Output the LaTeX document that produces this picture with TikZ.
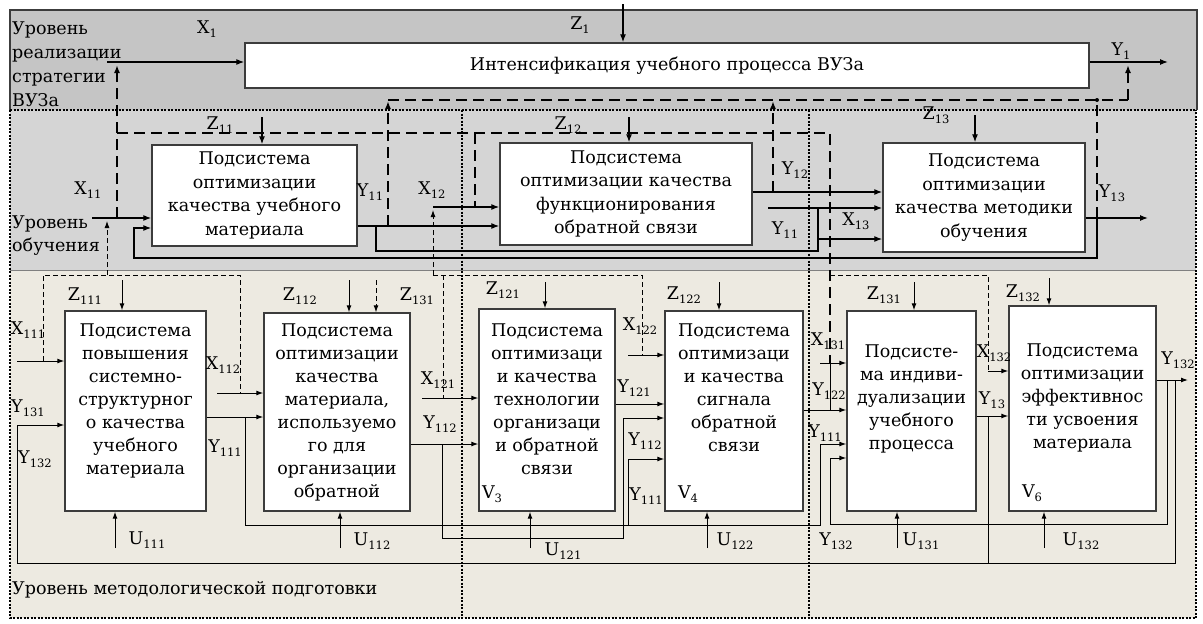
\documentclass[tikz,border=0pt]{standalone}
\usepackage{fontspec}
\setmainfont{DejaVu Serif}
\usetikzlibrary{arrows.meta}
\newcommand{\lb}[2]{#1\raisebox{-0.4ex}{\fontsize{11.5}{12}\selectfont #2}}
\definecolor{bandA}{RGB}{197,197,197}
\definecolor{bandB}{RGB}{213,213,213}
\definecolor{bandC}{RGB}{237,234,225}
\definecolor{edge}{RGB}{60,60,60}
\begin{document}
\begin{tikzpicture}[x=1pt,y=-1pt,
  font=\fontsize{17.5}{23}\selectfont,
  box/.style={draw=edge,line width=1.4pt,fill=white,inner sep=0pt},
  txt/.style={inner sep=0pt,align=center,anchor=north},
  lab/.style={inner sep=0pt},
  arr/.style={line width=1.2pt,-{Latex[length=8pt,width=6pt]}},
  wire/.style={line width=1.2pt},
  arrt/.style={line width=1pt,-{Latex[length=7pt,width=5pt]}},
  wiret/.style={line width=1pt},
  fb/.style={line width=1.6pt,dash pattern=on 11pt off 6pt},
  fbarr/.style={fb,-{Latex[length=8pt,width=6pt]}},
  fbt/.style={line width=0.9pt,dash pattern=on 5pt off 3pt},
  fbtarr/.style={fbt,-{Latex[length=7pt,width=5pt]}},
  dots/.style={line width=2pt,dash pattern=on 2pt off 1.5pt},
]
\useasboundingbox (0,0) rectangle (1203,624);
\fill[white] (0,0) rectangle (1203,624);
% bands
\fill[bandC] (10,270) rectangle (1196,618);
\fill[bandB] (10,110) rectangle (1196,270);
\fill[bandA] (10,10) rectangle (1197,110);
\draw[edge,line width=1.2pt] (10,110) -- (10,10) -- (1197,10) -- (1197,110);
\draw[gray,line width=0.8pt] (10,270) -- (1196,270);

% ---------------- level 1 ----------------
\node[box,minimum width=844pt,minimum height=45pt] (top) at (667,65.5) {Интенсификация учебного процесса ВУЗа};
\node[lab,anchor=north west,align=left,font=\fontsize{17.5}{24}\selectfont] (lev1) at (12,21.5) {Уровень\\реализации\\стратегии\\ВУЗа};
\coordinate (x1s) at (107,62);
\draw[arr] (x1s) -- (top.west |- x1s);
\coordinate (z1s) at (623,4);
\draw[arr] (z1s) -- (z1s |- top.north);
\coordinate (y1e) at (1168,62);
\draw[arr] (top.east |- y1e) -- (y1e);
\node[lab] (lx1) at (207,29) {\lb{X}{1}};
\node[lab] (lz1) at (580,25) {\lb{Z}{1}};
\node[lab] (ly1) at (1121,51) {\lb{Y}{1}};

% ---------------- level 2 ----------------
\node[box,minimum width=205pt,minimum height=101pt,align=center,font=\fontsize{17.5}{23.5}\selectfont] (s11) at (254.5,195.5) {Подсистема\\оптимизации\\качества учебного\\материала};
\node[box,minimum width=252pt,minimum height=102pt,align=center,font=\fontsize{17.5}{23.5}\selectfont] (s12) at (626,194) {Подсистема\\оптимизации качества\\функционирования\\обратной связи};
\node[box,minimum width=202pt,minimum height=109pt,align=center,font=\fontsize{17.5}{23.5}\selectfont] (s13) at (984,197.5) {Подсистема\\оптимизации\\качества методики\\обучения};
\node[lab,anchor=north west,align=left] (lev2) at (12,215.6) {Уровень\\обучения};

% feedback to level 1
\draw[fbarr] (117,218) -- (117,65);
\draw[fbarr] (388,226) -- (388,101);
\draw[fb] (388,100) -- (1128,100);
\draw[fbarr] (1128,100) -- (1128,65);
\draw[fbarr] (773,192) -- (773,101);
\draw[fb] (1097,218) -- (1097,100);
\fill (1097,100) circle (2pt);
\draw[fb] (117,133) -- (830,133) -- (830,363);
\draw[fb] (475,133) -- (475,207);

% Z inputs level 2
\coordinate (z11s) at (262,117);
\draw[arr] (z11s) -- (z11s |- s11.north);
\coordinate (z12s) at (629,117);
\draw[arr] (z12s) -- (z12s |- s12.north);
\coordinate (z13s) at (975,115);
\draw[arr] (z13s) -- (z13s |- s13.north);

% X11 and loop
\coordinate (x11s) at (92,218);
\draw[arr] (x11s) -- (s11.west |- x11s);
\coordinate (lp) at (134,228);
\coordinate (y13e) at (1148,218);
\draw[arr] (s13.east |- y13e) -- (y13e);
\draw[arr] (1097,218) -- (1097,258) -- (134,258) -- (lp) -- (s11.west |- lp);

% Y11
\coordinate (y11a) at (376,226);
\draw[arr] (s11.east |- y11a) -- (s12.west |- y11a);
\coordinate (y11b) at (818,239);
\draw[wire] (y11a) -- (376,251) -- (818,251) -- (818,208);
\draw[arr] (y11b) -- (s13.west |- y11b);
% X12
\coordinate (x12s) at (433,207);
\draw[arr] (x12s) -- (s12.west |- x12s);
% Y12
\coordinate (y12a) at (760,192);
\draw[arr] (s12.east |- y12a) -- (s13.west |- y12a);
% X13
\coordinate (x13s) at (768,208);
\draw[arr] (x13s) -- (s13.west |- x13s);

\node[lab] (lx11) at (88,190) {\lb{X}{11}};
\node[lab] (lz11) at (220,125) {\lb{Z}{11}};
\node[lab] (ly11) at (370,192) {\lb{Y}{11}};
\node[lab] (lx12) at (432,190) {\lb{X}{12}};
\node[lab] (lz12) at (568,125) {\lb{Z}{12}};
\node[lab] (ly12) at (795,170) {\lb{Y}{12}};
\node[lab] (lx13) at (856,221) {\lb{X}{13}};
\node[lab] (ly11b) at (785,230) {\lb{Y}{11}};
\node[lab] (lz13) at (936,115) {\lb{Z}{13}};
\node[lab] (ly13) at (1112,193) {\lb{Y}{13}};

% ---------------- level 3 ----------------
\node[box,minimum width=141pt,minimum height=200pt] (b111) at (135.5,411) {};
\node[box,minimum width=146pt,minimum height=198pt] (b112) at (337,412) {};
\node[box,minimum width=136pt,minimum height=202pt] (b121) at (547,410) {};
\node[box,minimum width=138pt,minimum height=200pt] (b122) at (734,411) {};
\node[box,minimum width=129pt,minimum height=200pt] (b131) at (911.5,411) {};
\node[box,minimum width=147pt,minimum height=205pt] (b132) at (1082.5,408.5) {};

\node[txt] (t111) at (135.5,323.5) {Подсистема\\повышения\\системно-\\структурног\\о качества\\учебного\\материала};
\node[txt] (t112) at (337,323.5) {Подсистема\\оптимизации\\качества\\материала,\\используемо\\го для\\организации\\обратной};
\node[txt] (t121) at (547,323.5) {Подсистема\\оптимизаци\\и качества\\технологии\\организаци\\и обратной\\связи};
\node[txt] (t122) at (734,323.5) {Подсистема\\оптимизаци\\и качества\\сигнала\\обратной\\связи};
\node[txt] (t131) at (911.5,344.5) {Подсисте-\\ма индиви-\\дуализации\\учебного\\процесса};
\node[txt] (t132) at (1082.5,343.5) {Подсистема\\оптимизации\\эффективнос\\ти усвоения\\материала};
\node[lab] (v3) at (492,494) {\lb{V}{3}};
\node[lab] (v4) at (688,494) {\lb{V}{4}};
\node[lab] (v6) at (1032,493) {\lb{V}{6}};

\node[lab,anchor=base west] (lev3) at (12,594) {Уровень методологической подготовки};

% Z inputs level 3
\coordinate (z111s) at (122,280);
\draw[arrt] (z111s) -- (z111s |- b111.north);
\coordinate (z112s) at (349,280);
\draw[arrt] (z112s) -- (z112s |- b112.north);
\coordinate (z131a) at (376,280);
\draw[fbtarr] (z131a) -- (z131a |- b112.north);
\coordinate (z121s) at (545,282);
\draw[arrt] (z121s) -- (z121s |- b121.north);
\coordinate (z122s) at (719,282);
\draw[arrt] (z122s) -- (z122s |- b122.north);
\coordinate (z131s) at (914,282);
\draw[arrt] (z131s) -- (z131s |- b131.north);
\coordinate (z132s) at (1049,278);
\draw[arrt] (z132s) -- (z132s |- b132.north);

% U inputs
\coordinate (u111) at (115,548);
\draw[arrt] (u111) -- (u111 |- b111.south);
\coordinate (u112) at (340,548);
\draw[arrt] (u112) -- (u112 |- b112.south);
\coordinate (u121) at (530,548);
\draw[arrt] (u121) -- (u121 |- b121.south);
\coordinate (u122) at (707,548);
\draw[arrt] (u122) -- (u122 |- b122.south);
\coordinate (u131) at (897,548);
\draw[arrt] (u131) -- (u131 |- b131.south);
\coordinate (u132) at (1044,548);
\draw[arrt] (u132) -- (u132 |- b132.south);

% left section
\coordinate (x111s) at (17,361);
\draw[arrt] (x111s) -- (b111.west |- x111s);
\draw[fbt] (43,361) -- (43,275) -- (240,275) -- (240,393);
\draw[fbtarr] (107,275) -- (107,221);
\coordinate (x112s) at (217,393);
\draw[arrt] (x112s) -- (b112.west |- x112s);
\coordinate (y111a) at (245,417);
\draw[arrt] (b111.east |- y111a) -- (b112.west |- y111a);
\coordinate (y111c) at (628,459);
\coordinate (y111d) at (820,444);
\draw[wiret] (y111a) -- (245,525) -- (628,525);
\draw[arrt] (628,525) -- (y111c) -- (b122.west |- y111c);
\draw[arrt] (628,525) -- (820,525) -- (y111d) -- (b131.west |- y111d);

% middle section
\coordinate (y112a) at (442,444);
\draw[arrt] (b112.east |- y112a) -- (b121.west |- y112a);
\coordinate (y112c) at (623,418);
\draw[arrt] (y112a) -- (442,538) -- (623,538) -- (y112c) -- (b122.west |- y112c);
\coordinate (x121s) at (422,398);
\draw[arrt] (x121s) -- (b121.west |- x121s);
\draw[fbtarr] (433,275) -- (433,210);
\draw[fbt] (433,275) -- (642,275) -- (642,355);
\draw[fbt] (443,275) -- (443,398);
\coordinate (x122s) at (628,355);
\draw[arrt] (x122s) -- (b122.west |- x122s);
\coordinate (y121) at (640,404);
\draw[arrt] (b121.east |- y121) -- (b122.west |- y121);
\coordinate (y122) at (820,410);
\draw[arrt] (b122.east |- y122) -- (b131.west |- y122);

% right section
\coordinate (x131s) at (820,363);
\draw[arrt] (x131s) -- (b131.west |- x131s);
\draw[wiret] (830,363) -- (830,410);
\draw[fbt] (830,275) -- (988,275) -- (988,371);
\coordinate (x132s) at (988,371);
\draw[arrt] (x132s) -- (b132.west |- x132s);
\coordinate (y13b) at (988,416);
\draw[arrt] (b131.east |- y13b) -- (b132.west |- y13b);
\draw[wiret] (y13b) -- (988,563);
\coordinate (y132e) at (1188,380);
\draw[arrt] (b132.east |- y132e) -- (y132e);
\coordinate (y131e) at (17,425);
\draw[arrt] (1175,380) -- (1175,563) -- (17,563) -- (y131e) -- (b111.west |- y131e);
\coordinate (y132b) at (830,458);
\draw[wiret] (1167,380) -- (1167,524) -- (830,524);
\draw[arrt] (830,524) -- (y132b) -- (b131.west |- y132b);

% level 3 labels
\node[lab] (lz111) at (85,296) {\lb{Z}{111}};
\node[lab] (lx111) at (28,330) {\lb{X}{111}};
\node[lab] (lx112) at (223,365) {\lb{X}{112}};
\node[lab] (ly131) at (28,408) {\lb{Y}{131}};
\node[lab] (ly132a) at (35,459) {\lb{Y}{132}};
\node[lab] (ly111a) at (225,448) {\lb{Y}{111}};
\node[lab] (lu111) at (147,540) {\lb{U}{111}};
\node[lab] (lz112) at (300,296) {\lb{Z}{112}};
\node[lab] (lz131a) at (417,296) {\lb{Z}{131}};
\node[lab] (lx121) at (438,380) {\lb{X}{121}};
\node[lab] (ly112a) at (440,424) {\lb{Y}{112}};
\node[lab] (lu112) at (372,541) {\lb{U}{112}};
\node[lab] (lu121) at (563,551) {\lb{U}{121}};
\node[lab] (lz121) at (503,290) {\lb{Z}{121}};
\node[lab] (lz122) at (684,295) {\lb{Z}{122}};
\node[lab] (lx122) at (640,326) {\lb{X}{122}};
\node[lab] (ly121) at (634,388) {\lb{Y}{121}};
\node[lab] (ly112b) at (645,441) {\lb{Y}{112}};
\node[lab] (ly111b) at (646,496) {\lb{Y}{111}};
\node[lab] (lu122) at (735,541) {\lb{U}{122}};
\node[lab] (lx131) at (828,341) {\lb{X}{131}};
\node[lab] (ly122) at (829,391) {\lb{Y}{122}};
\node[lab] (ly111c) at (825,433) {\lb{Y}{111}};
\node[lab] (ly132b) at (836,541) {\lb{Y}{132}};
\node[lab] (lz131b) at (884,295) {\lb{Z}{131}};
\node[lab] (lu131) at (921,541) {\lb{U}{131}};
\node[lab] (lx132) at (994,353) {\lb{X}{132}};
\node[lab] (ly13b) at (992,400) {\lb{Y}{13}};
\node[lab] (lz132) at (1023,293) {\lb{Z}{132}};
\node[lab] (ly132c) at (1178,360) {\lb{Y}{132}};
\node[lab] (lu132) at (1081,541) {\lb{U}{132}};

% dotted frames
\draw[dots] (10,110) -- (1196,110);
\draw[dots] (10,110) -- (10,618) -- (1196,618) -- (1196,110);
\draw[dots] (462,110) -- (462,618);
\draw[dots] (809,110) -- (809,618);
\end{tikzpicture}
\end{document}
